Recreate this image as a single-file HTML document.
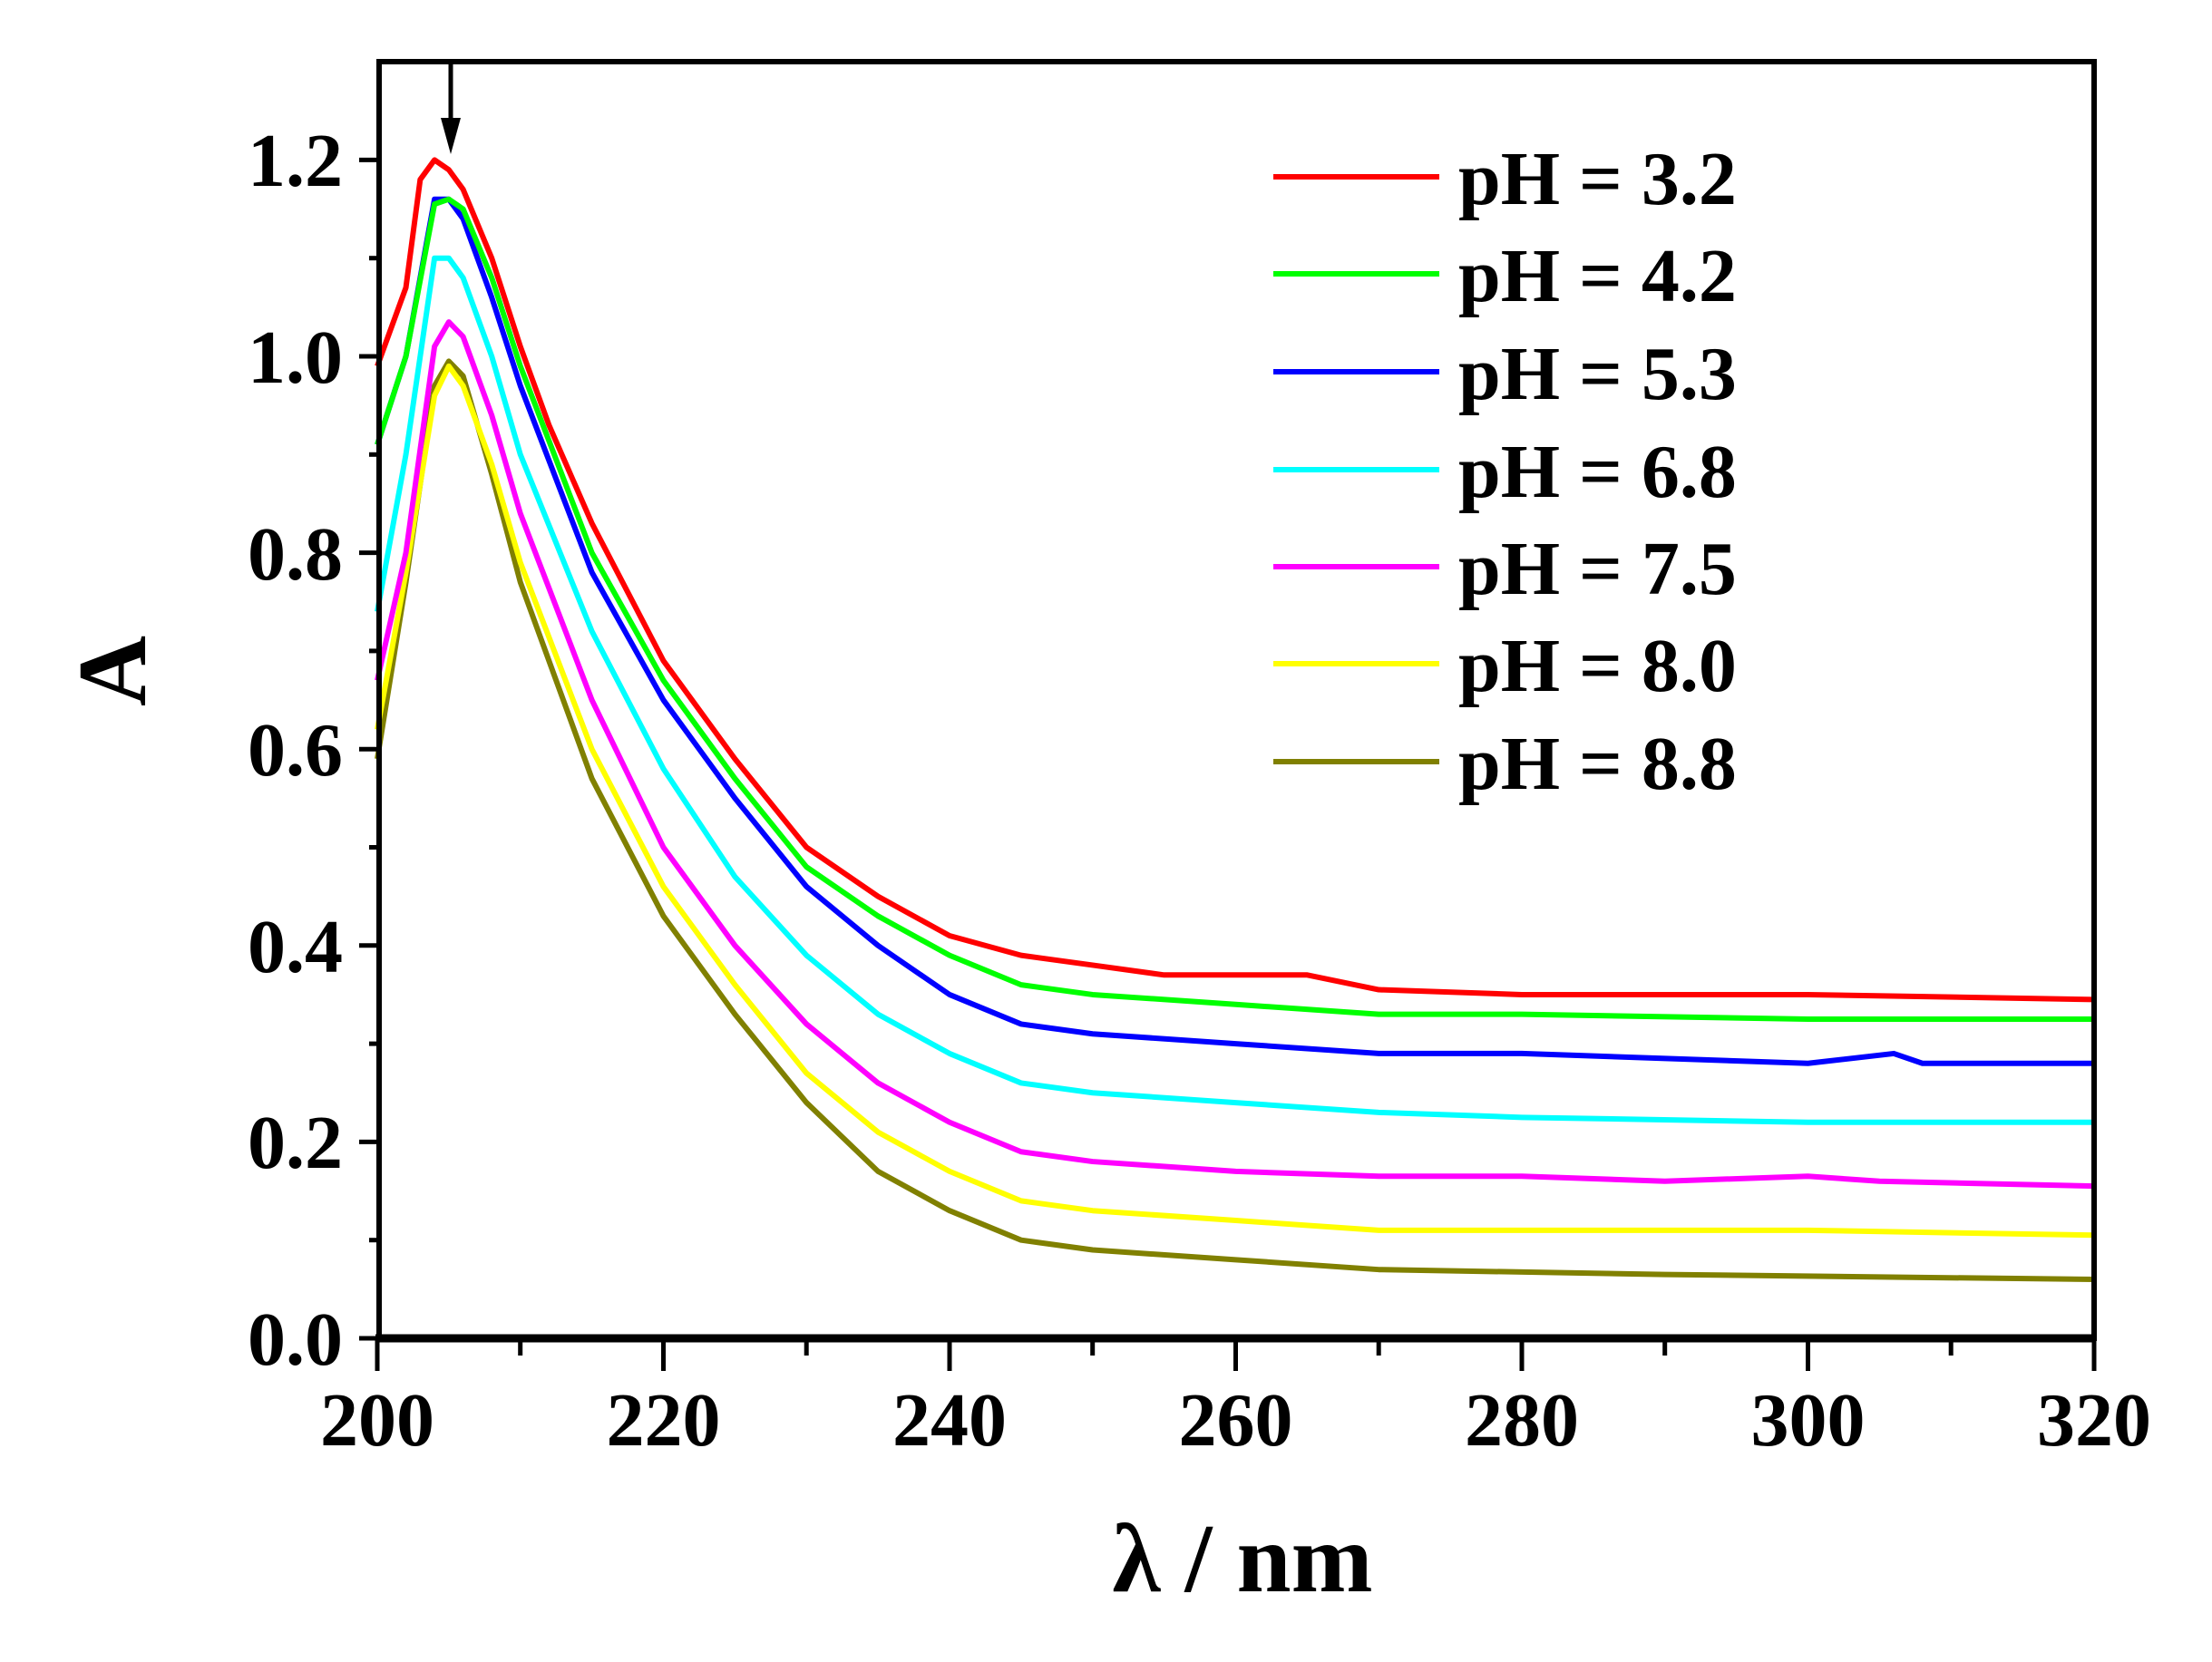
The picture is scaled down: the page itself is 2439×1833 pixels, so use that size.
<!DOCTYPE html>
<html><head><style>body{margin:0;background:#fff}svg{display:block}</style></head><body>
<svg width="2439" height="1833" xmlns="http://www.w3.org/2000/svg" font-family="Liberation Serif, serif" font-weight="bold">
<rect width="2439" height="1833" fill="#fff"/>
<g transform="translate(416,1476) scale(15.775,-1083)" fill="none" stroke-width="6" stroke-linejoin="round">
<polyline vector-effect="non-scaling-stroke" stroke="#808000" points="0,0.59 2,0.77 4,0.97 5,0.995 6,0.98 8,0.88 10,0.77 15,0.57 20,0.43 25,0.33 30,0.24 35,0.17 40,0.13 45,0.10 50,0.09 60,0.08 70,0.07 90,0.065 120,0.06"/>
<polyline vector-effect="non-scaling-stroke" stroke="#ffff00" points="0,0.62 2,0.78 4,0.96 5,0.99 6,0.97 8,0.89 10,0.79 15,0.60 20,0.46 25,0.36 30,0.27 35,0.21 40,0.17 45,0.14 50,0.13 60,0.12 70,0.11 100,0.11 120,0.105"/>
<polyline vector-effect="non-scaling-stroke" stroke="#ff00ff" points="0,0.67 2,0.80 4,1.01 5,1.035 6,1.02 8,0.94 10,0.84 15,0.65 20,0.50 25,0.40 30,0.32 35,0.26 40,0.22 45,0.19 50,0.18 60,0.17 70,0.165 80,0.165 90,0.16 100,0.165 105,0.16 120,0.155"/>
<polyline vector-effect="non-scaling-stroke" stroke="#00ffff" points="0,0.74 2,0.90 4,1.10 5,1.10 6,1.08 8,1.00 10,0.90 15,0.72 20,0.58 25,0.47 30,0.39 35,0.33 40,0.29 45,0.26 50,0.25 60,0.24 70,0.23 80,0.225 100,0.22 120,0.22"/>
<polyline vector-effect="non-scaling-stroke" stroke="#0000ff" points="0,0.91 2,1.00 4,1.16 5,1.16 6,1.14 8,1.06 10,0.97 15,0.78 20,0.65 25,0.55 30,0.46 35,0.40 40,0.35 45,0.32 50,0.31 60,0.30 70,0.29 80,0.29 100,0.28 106,0.29 108,0.28 120,0.28"/>
<polyline vector-effect="non-scaling-stroke" stroke="#00ff00" points="0,0.91 2,1.00 4,1.155 5,1.16 6,1.15 8,1.08 10,0.99 15,0.80 20,0.67 25,0.57 30,0.48 35,0.43 40,0.39 45,0.36 50,0.35 60,0.34 70,0.33 80,0.33 100,0.325 120,0.325"/>
<polyline vector-effect="non-scaling-stroke" stroke="#ff0000" points="0,0.99 2,1.07 3,1.18 4,1.20 5,1.19 6,1.17 8,1.10 10,1.01 12,0.93 15,0.83 20,0.69 25,0.59 30,0.50 35,0.45 40,0.41 45,0.39 50,0.38 55,0.37 65,0.37 70,0.355 80,0.35 100,0.35 120,0.345"/>
</g>
<g stroke="#000" stroke-width="6" fill="none">
<rect x="418" y="68" width="1891" height="1408"/>
<line x1="414" y1="1476" x2="2311" y2="1476" stroke-width="9"/>
</g>
<g stroke="#000" stroke-width="5">
<line x1="416" y1="1476" x2="416" y2="1512"/><line x1="731.5" y1="1476" x2="731.5" y2="1512"/><line x1="1047" y1="1476" x2="1047" y2="1512"/><line x1="1362.5" y1="1476" x2="1362.5" y2="1512"/><line x1="1678" y1="1476" x2="1678" y2="1512"/><line x1="1993.5" y1="1476" x2="1993.5" y2="1512"/><line x1="2309" y1="1476" x2="2309" y2="1512"/>
<line x1="573.7" y1="1476" x2="573.7" y2="1495"/><line x1="889.2" y1="1476" x2="889.2" y2="1495"/><line x1="1204.7" y1="1476" x2="1204.7" y2="1495"/><line x1="1520.2" y1="1476" x2="1520.2" y2="1495"/><line x1="1835.7" y1="1476" x2="1835.7" y2="1495"/><line x1="2151.2" y1="1476" x2="2151.2" y2="1495"/>
<line x1="396" y1="1476" x2="418" y2="1476"/><line x1="396" y1="1259.4" x2="418" y2="1259.4"/><line x1="396" y1="1042.8" x2="418" y2="1042.8"/><line x1="396" y1="826.2" x2="418" y2="826.2"/><line x1="396" y1="609.6" x2="418" y2="609.6"/><line x1="396" y1="393" x2="418" y2="393"/><line x1="396" y1="176.4" x2="418" y2="176.4"/>
<line x1="407" y1="1367.7" x2="418" y2="1367.7"/><line x1="407" y1="1151.1" x2="418" y2="1151.1"/><line x1="407" y1="934.5" x2="418" y2="934.5"/><line x1="407" y1="717.9" x2="418" y2="717.9"/><line x1="407" y1="501.3" x2="418" y2="501.3"/><line x1="407" y1="284.7" x2="418" y2="284.7"/>
<line x1="497" y1="68" x2="497" y2="140"/>
</g>
<polygon points="486,130 508,130 497,170" fill="#000"/>
<g font-size="84" text-anchor="end">
<text x="378" y="1505">0.0</text><text x="378" y="1288">0.2</text><text x="378" y="1072">0.4</text><text x="378" y="855">0.6</text><text x="378" y="639">0.8</text><text x="378" y="422">1.0</text><text x="378" y="205">1.2</text>
</g>
<g font-size="84" text-anchor="middle">
<text x="416" y="1594">200</text><text x="731.5" y="1594">220</text><text x="1047" y="1594">240</text><text x="1362.5" y="1594">260</text><text x="1678" y="1594">280</text><text x="1993.5" y="1594">300</text><text x="2309" y="1594">320</text>
</g>
<text x="1370" y="1755" font-size="108" text-anchor="middle">λ / nm</text>
<text transform="translate(160,740) rotate(-90)" font-size="108" text-anchor="middle">A</text>
<g stroke-width="6">
<line x1="1404" y1="195" x2="1587" y2="195" stroke="#ff0000"/>
<line x1="1404" y1="302" x2="1587" y2="302" stroke="#00ff00"/>
<line x1="1404" y1="410" x2="1587" y2="410" stroke="#0000ff"/>
<line x1="1404" y1="518" x2="1587" y2="518" stroke="#00ffff"/>
<line x1="1404" y1="625" x2="1587" y2="625" stroke="#ff00ff"/>
<line x1="1404" y1="732" x2="1587" y2="732" stroke="#ffff00"/>
<line x1="1404" y1="840" x2="1587" y2="840" stroke="#808000"/>
</g>
<g font-size="84">
<text x="1608" y="225">pH = 3.2</text><text x="1608" y="332">pH = 4.2</text><text x="1608" y="440">pH = 5.3</text><text x="1608" y="548">pH = 6.8</text><text x="1608" y="655">pH = 7.5</text><text x="1608" y="762">pH = 8.0</text><text x="1608" y="870">pH = 8.8</text>
</g>
</svg>
</body></html>
